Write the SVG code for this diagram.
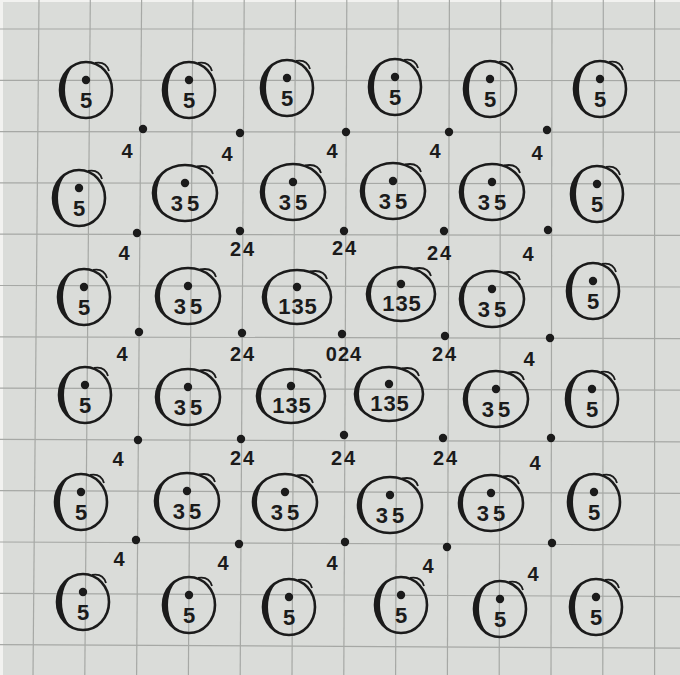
<svg xmlns="http://www.w3.org/2000/svg" xmlns:xlink="http://www.w3.org/1999/xlink" width="680" height="675" viewBox="0 0 680 675">
<style>
.grid line{stroke:#a6a8a5;stroke-width:1.2}
.ring{fill:none;stroke:#1b1b1b;stroke-width:2.6}
.cres{fill:#1b1b1b}
.tail{fill:none;stroke:#1b1b1b;stroke-width:1.8}
.dot{fill:#1b1b1b}
.lab{font-family:"Liberation Sans",Arial,sans-serif;font-weight:bold;font-size:22px;fill:#1b1b1b;text-anchor:middle}
.pt{font-family:"Liberation Sans",Arial,sans-serif;font-weight:bold;font-size:20px;fill:#1b1b1b;text-anchor:middle}
.ls{letter-spacing:4px}
</style>
<defs>
<g id="r5">
<ellipse rx="26" ry="28" class="ring"/>
<path class="cres" d="M -4,-27.7 A 26 28 0 0 0 -4 27.7 A 17 27.7 0 0 1 -4 -27.7 Z"/>
<path class="tail" d="M 9,-27 Q 20,-29 23,-19"/>
<circle cx="0" cy="-10" r="4.2" class="dot"/>
</g>
<g id="r35">
<ellipse rx="32" ry="28" class="ring"/>
<path class="cres" d="M -6,-27.5 A 32 28 0 0 0 -6 27.5 A 22 27.5 0 0 1 -6 -27.5 Z"/>
<path class="tail" d="M 12,-26.5 Q 25,-29 28,-19"/>
<circle cx="0" cy="-10" r="4.2" class="dot"/>
</g>
<g id="r135">
<ellipse rx="34" ry="27" class="ring"/>
<path class="cres" d="M -7,-26.4 A 34 27 0 0 0 -7 26.4 A 23 26.4 0 0 1 -7 -26.4 Z"/>
<path class="tail" d="M 13,-25.5 Q 27,-28 30,-18"/>
<circle cx="0" cy="-10" r="4.2" class="dot"/>
</g>
</defs>
<rect x="0" y="0" width="680" height="675" fill="#f2f2f0"/>
<rect x="3" y="2" width="677" height="673" fill="#dadcd9"/>
<g class="grid">
<line x1="39" y1="0" x2="33" y2="675"/>
<line x1="90.3" y1="0" x2="84.8" y2="675"/>
<line x1="141.6" y1="0" x2="136.6" y2="675"/>
<line x1="192.9" y1="0" x2="188.4" y2="675"/>
<line x1="244.2" y1="0" x2="240.2" y2="675"/>
<line x1="295.5" y1="0" x2="292" y2="675"/>
<line x1="346.8" y1="0" x2="343.8" y2="675"/>
<line x1="398.1" y1="0" x2="395.6" y2="675"/>
<line x1="449.4" y1="0" x2="447.4" y2="675"/>
<line x1="500.7" y1="0" x2="499.2" y2="675"/>
<line x1="552" y1="0" x2="551" y2="675"/>
<line x1="603.3" y1="0" x2="602.8" y2="675"/>
<line x1="654.6" y1="0" x2="654.6" y2="675"/>
<line x1="0" y1="29" x2="680" y2="29"/>
<line x1="0" y1="80.3" x2="680" y2="80.6"/>
<line x1="0" y1="131.6" x2="680" y2="132.2"/>
<line x1="0" y1="182.9" x2="680" y2="183.8"/>
<line x1="0" y1="234.2" x2="680" y2="235.4"/>
<line x1="0" y1="285.5" x2="680" y2="287"/>
<line x1="0" y1="336.8" x2="680" y2="338.6"/>
<line x1="0" y1="388.1" x2="680" y2="390.2"/>
<line x1="0" y1="439.4" x2="680" y2="441.8"/>
<line x1="0" y1="490.7" x2="680" y2="493.4"/>
<line x1="0" y1="542" x2="680" y2="545"/>
<line x1="0" y1="593.3" x2="680" y2="596.6"/>
<line x1="0" y1="644.6" x2="680" y2="648.2"/>
</g>
<g id="nodes">
<g id="n11" transform="translate(86 90)"><use href="#r5"/><text class="lab" y="18">5</text></g>
<g id="n12" transform="translate(189 90)"><use href="#r5"/><text class="lab" y="18">5</text></g>
<g id="n13" transform="translate(287 88)"><use href="#r5"/><text class="lab" y="18">5</text></g>
<g id="n14" transform="translate(395 87)"><use href="#r5"/><text class="lab" y="18">5</text></g>
<g id="n15" transform="translate(490 89)"><use href="#r5"/><text class="lab" y="18">5</text></g>
<g id="n16" transform="translate(600 89)"><use href="#r5"/><text class="lab" y="18">5</text></g>
<g id="n21" transform="translate(79 198)"><use href="#r5"/><text class="lab" y="18">5</text></g>
<g id="n22" transform="translate(185 193)"><use href="#r35"/><text class="lab ls" x="2" y="18">35</text></g>
<g id="n23" transform="translate(293 192)"><use href="#r35"/><text class="lab ls" x="2" y="18">35</text></g>
<g id="n24" transform="translate(393 191)"><use href="#r35"/><text class="lab ls" x="2" y="18">35</text></g>
<g id="n25" transform="translate(492 192)"><use href="#r35"/><text class="lab ls" x="2" y="18">35</text></g>
<g id="n26" transform="translate(597 194)"><use href="#r5"/><text class="lab" y="18">5</text></g>
<g id="n31" transform="translate(84 297)"><use href="#r5"/><text class="lab" y="18">5</text></g>
<g id="n32" transform="translate(188 296)"><use href="#r35"/><text class="lab ls" x="2" y="18">35</text></g>
<g id="n33" transform="translate(297 297)"><use href="#r135"/><text class="lab" x="1" y="17" letter-spacing="1">135</text></g>
<g id="n34" transform="translate(401 294)"><use href="#r135"/><text class="lab" x="1" y="17" letter-spacing="1">135</text></g>
<g id="n35" transform="translate(492 299)"><use href="#r35"/><text class="lab ls" x="2" y="18">35</text></g>
<g id="n36" transform="translate(593 291)"><use href="#r5"/><text class="lab" y="18">5</text></g>
<g id="n41" transform="translate(85 395)"><use href="#r5"/><text class="lab" y="18">5</text></g>
<g id="n42" transform="translate(188 397)"><use href="#r35"/><text class="lab ls" x="2" y="18">35</text></g>
<g id="n43" transform="translate(291 396)"><use href="#r135"/><text class="lab" x="1" y="17" letter-spacing="1">135</text></g>
<g id="n44" transform="translate(389 394)"><use href="#r135"/><text class="lab" x="1" y="17" letter-spacing="1">135</text></g>
<g id="n45" transform="translate(496 399)"><use href="#r35"/><text class="lab ls" x="2" y="18">35</text></g>
<g id="n46" transform="translate(592 399)"><use href="#r5"/><text class="lab" y="18">5</text></g>
<g id="n51" transform="translate(81 502)"><use href="#r5"/><text class="lab" y="18">5</text></g>
<g id="n52" transform="translate(187 501)"><use href="#r35"/><text class="lab ls" x="2" y="18">35</text></g>
<g id="n53" transform="translate(285 502)"><use href="#r35"/><text class="lab ls" x="2" y="18">35</text></g>
<g id="n54" transform="translate(390 505)"><use href="#r35"/><text class="lab ls" x="2" y="18">35</text></g>
<g id="n55" transform="translate(491 503)"><use href="#r35"/><text class="lab ls" x="2" y="18">35</text></g>
<g id="n56" transform="translate(594 502)"><use href="#r5"/><text class="lab" y="18">5</text></g>
<g id="n61" transform="translate(83 602)"><use href="#r5"/><text class="lab" y="18">5</text></g>
<g id="n62" transform="translate(189 605)"><use href="#r5"/><text class="lab" y="18">5</text></g>
<g id="n63" transform="translate(289 607)"><use href="#r5"/><text class="lab" y="18">5</text></g>
<g id="n64" transform="translate(401 605)"><use href="#r5"/><text class="lab" y="18">5</text></g>
<g id="n65" transform="translate(500 609)"><use href="#r5"/><text class="lab" y="18">5</text></g>
<g id="n66" transform="translate(596 607)"><use href="#r5"/><text class="lab" y="18">5</text></g>
</g>
<g id="points">
<g id="pA1"><circle class="dot" cx="143" cy="129" r="4.2"/><text class="pt" x="127" y="158">4</text></g>
<g id="pA2"><circle class="dot" cx="240" cy="133" r="4.2"/><text class="pt" x="227" y="161">4</text></g>
<g id="pA3"><circle class="dot" cx="346" cy="132" r="4.2"/><text class="pt" x="332" y="158">4</text></g>
<g id="pA4"><circle class="dot" cx="449" cy="132" r="4.2"/><text class="pt" x="435" y="158">4</text></g>
<g id="pA5"><circle class="dot" cx="547" cy="130" r="4.2"/><text class="pt" x="537" y="160">4</text></g>
<g id="pB1"><circle class="dot" cx="137" cy="233" r="4.2"/><text class="pt" x="124" y="260">4</text></g>
<g id="pB2"><circle class="dot" cx="240" cy="231" r="4.2"/><text class="pt" x="243" y="256" letter-spacing="2">24</text></g>
<g id="pB3"><circle class="dot" cx="344" cy="231" r="4.2"/><text class="pt" x="345" y="255" letter-spacing="2">24</text></g>
<g id="pB4"><circle class="dot" cx="444" cy="231" r="4.2"/><text class="pt" x="440" y="260" letter-spacing="2">24</text></g>
<g id="pB5"><circle class="dot" cx="548" cy="230" r="4.2"/><text class="pt" x="528" y="261">4</text></g>
<g id="pC1"><circle class="dot" cx="139" cy="332" r="4.2"/><text class="pt" x="122" y="361">4</text></g>
<g id="pC2"><circle class="dot" cx="242" cy="333" r="4.2"/><text class="pt" x="243" y="361" letter-spacing="2">24</text></g>
<g id="pC3"><circle class="dot" cx="342" cy="334" r="4.2"/><text class="pt" x="344" y="361" letter-spacing="1">024</text></g>
<g id="pC4"><circle class="dot" cx="445" cy="336" r="4.2"/><text class="pt" x="445" y="361" letter-spacing="2">24</text></g>
<g id="pC5"><circle class="dot" cx="550" cy="338" r="4.2"/><text class="pt" x="529" y="366">4</text></g>
<g id="pD1"><circle class="dot" cx="138" cy="440" r="4.2"/><text class="pt" x="118" y="466">4</text></g>
<g id="pD2"><circle class="dot" cx="241" cy="439" r="4.2"/><text class="pt" x="243" y="465" letter-spacing="2">24</text></g>
<g id="pD3"><circle class="dot" cx="344" cy="435" r="4.2"/><text class="pt" x="344" y="465" letter-spacing="2">24</text></g>
<g id="pD4"><circle class="dot" cx="443" cy="438" r="4.2"/><text class="pt" x="446" y="465" letter-spacing="2">24</text></g>
<g id="pD5"><circle class="dot" cx="551" cy="438" r="4.2"/><text class="pt" x="535" y="470">4</text></g>
<g id="pE1"><circle class="dot" cx="136" cy="540" r="4.2"/><text class="pt" x="119" y="566">4</text></g>
<g id="pE2"><circle class="dot" cx="239" cy="544" r="4.2"/><text class="pt" x="223" y="570">4</text></g>
<g id="pE3"><circle class="dot" cx="345" cy="542" r="4.2"/><text class="pt" x="332" y="570">4</text></g>
<g id="pE4"><circle class="dot" cx="447" cy="547" r="4.2"/><text class="pt" x="428" y="573">4</text></g>
<g id="pE5"><circle class="dot" cx="552" cy="543" r="4.2"/><text class="pt" x="533" y="581">4</text></g>
</g>
</svg>
